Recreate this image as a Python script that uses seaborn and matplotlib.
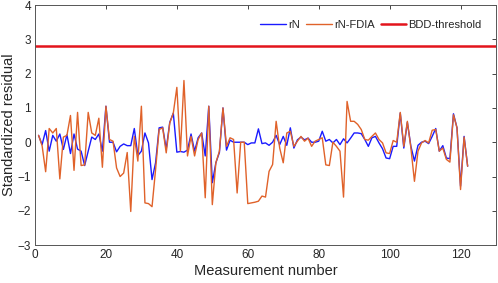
import numpy as np
import pandas as pd
import matplotlib
matplotlib.use("Agg")
import matplotlib.pyplot as plt
import seaborn as sns

measurement = list(range(1, 123))
rN = [0.2, -0.07, 0.34, -0.26, 0.2, 0.03, 0.24, -0.21, 0.22, -0.33,
      0.24, -0.2, -0.26, -0.68, -0.26, 0.15, 0.08, 0.24, -0.26, 1.05,
      0.0, 0.0, -0.28, -0.12, -0.05, -0.1, -0.1, 0.4, -0.39, -0.26,
      0.27, -0.02, -1.09, -0.6, 0.42, 0.44, -0.2, 0.58, 0.85, -0.29,
      -0.27, -0.29, -0.23, 0.24, -0.26, 0.13, 0.27, -0.4, 1.05, -1.18,
      -0.6, -0.3, 1.0, -0.23, 0.06, 0.0, 0.0, 0.0, 0.0, -0.07,
      -0.02, -0.02, 0.39, -0.04, -0.02, -0.09, 0.0, 0.2, -0.07, 0.17,
      -0.09, 0.42, -0.17, 0.07, 0.15, 0.07, 0.12, 0.0, 0.0, 0.03,
      0.32, 0.03, 0.08, -0.02, 0.08, -0.07, 0.1, -0.02, 0.12, 0.27,
      0.27, 0.25, 0.08, -0.12, 0.13, 0.17, -0.02, -0.19, -0.46, -0.48,
      -0.12, -0.12, 0.85, -0.17, 0.58, -0.12, -0.55, -0.09, 0.0, 0.03,
      -0.04, 0.17, 0.4, -0.26, -0.1, -0.46, -0.48, 0.83, 0.42, -1.28,
      0.17, -0.7]
rN_FDIA = [0.2, -0.1, -0.86, 0.4, 0.27, 0.4, -1.07, 0.15, 0.2, 0.78,
           -0.82, 0.87, -0.68, -0.66, 0.87, 0.27, 0.2, 0.7, -0.73, 1.05,
           0.08, 0.03, -0.75, -1.0, -0.9, -0.3, -2.02, 0.17, -0.55, 1.05,
           -1.77, -1.79, -1.88, -0.8, 0.37, 0.42, -0.31, 0.56, 0.85, 1.6,
           -0.26, 1.8, -0.4, 0.17, -0.4, 0.08, 0.27, -1.62, 1.05, -1.82,
           -0.6, -0.26, 1.0, -0.12, 0.13, 0.08, -1.48, 0.0, 0.0, -1.79,
           -1.77, -1.75, -1.72, -1.57, -1.6, -0.85, -0.65, 0.61, -0.17, -0.6,
           0.27, 0.32, -0.12, 0.03, 0.17, 0.03, 0.12, -0.12, 0.03, 0.08,
           0.13, -0.66, -0.68, 0.0, -0.12, -0.26, -1.6, 1.19, 0.61, 0.61,
           0.52, 0.37, 0.08, 0.06, 0.17, 0.27, 0.08, -0.02, -0.31, -0.33,
           0.05, 0.0, 0.87, -0.12, 0.61, -0.17, -1.14, -0.26, -0.02, 0.05,
           -0.02, 0.35, 0.37, -0.26, -0.17, -0.5, -0.58, 0.8, 0.42, -1.38,
           0.15, -0.7]
bdd_threshold = 2.8
series_names = ["rN", "rN-FDIA", "BDD-threshold"]
x_ticks = [0, 20, 40, 60, 80, 100, 120]
y_ticks = [-3, -2, -1, 0, 1, 2, 3, 4]

sns.set_style("white")
plt.rcParams["font.family"] = ["Liberation Sans", "DejaVu Sans"]

df = pd.DataFrame({"Measurement": measurement, "rN": rN, "rN-FDIA": rN_FDIA})

fig = plt.figure(figsize=(4.98, 2.83), dpi=100)
ax = fig.add_axes([0.0703, 0.134, 0.9257, 0.848])

sns.lineplot(data=df, x="Measurement", y="rN", ax=ax, color="#1a1aff",
             linewidth=1.0, label=series_names[0])
sns.lineplot(data=df, x="Measurement", y="rN-FDIA", ax=ax, color="#e0622a",
             linewidth=1.0, label=series_names[1])
ax.axhline(bdd_threshold, color="#e3141c", linewidth=1.8, label=series_names[2])

ax.set_xlim(0, 130)
ax.set_ylim(-3, 4)
ax.set_xticks(x_ticks)
ax.set_yticks(y_ticks)
ax.tick_params(direction="in", length=3, width=0.6, labelsize=8.5,
               top=True, right=True, colors="#262626", pad=3)
for sp in ax.spines.values():
    sp.set_color("#555555")
    sp.set_linewidth(0.7)
ax.set_xlabel("Measurement number", fontsize=10.5, labelpad=2)
ax.set_ylabel("Standardized residual", fontsize=10.5, labelpad=1)

ax.legend(loc="upper right", ncol=3, frameon=False, fontsize=8,
          handlelength=2.3, columnspacing=0.55, handletextpad=0.2,
          borderaxespad=0.9)

fig.savefig("out.png", dpi=100)
